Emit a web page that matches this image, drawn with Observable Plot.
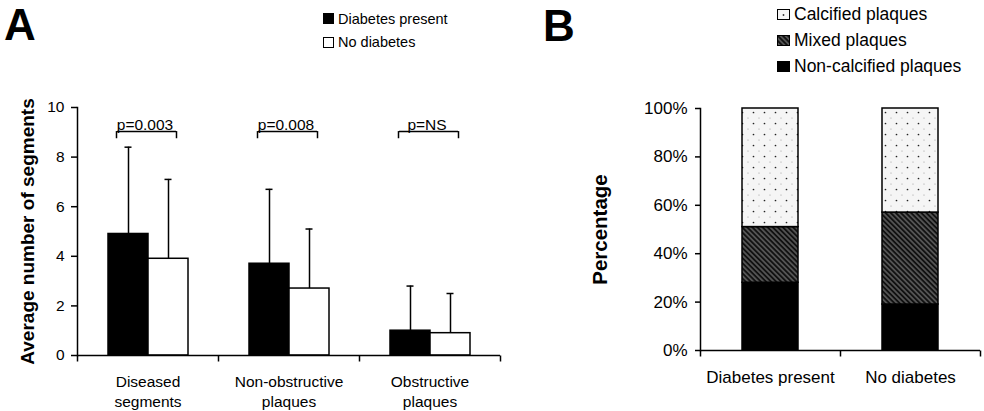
<!DOCTYPE html>
<html>
<head>
<meta charset="utf-8">
<script src="https://cdn.jsdelivr.net/npm/d3@7"></script>
<script src="https://cdn.jsdelivr.net/npm/@observablehq/plot@0.6"></script>
<style>
  body { margin: 0; background: #fff; font-family: "Liberation Sans", Arial, sans-serif; color: #000; }
  #wrap { position: relative; width: 984px; height: 411px; overflow: hidden; background: #fff; }
  .panel { position: absolute; top: 0; z-index: 0; }
  .letter { position: absolute; font-weight: bold; font-size: 44px; line-height: 1; z-index: 2; }
  .lrow { position: absolute; display: flex; align-items: center; white-space: nowrap; height: 20px; z-index: 2; }
  .lrow svg { margin-right: 4px; display: block; }
</style>
</head>
<body>
<svg width="0" height="0" style="position:absolute">
  <defs>
    <pattern id="dotPat" width="11" height="11" patternUnits="userSpaceOnUse">
      <rect width="11" height="11" fill="#f5f5f5"></rect>
      <circle cx="2.5" cy="2.5" r="0.85" fill="#222"></circle>
      <circle cx="8" cy="8" r="0.6" fill="#999"></circle>
    </pattern>
    <pattern id="mixedPat" width="3.6" height="3.6" patternUnits="userSpaceOnUse" patternTransform="rotate(45)">
      <rect width="3.6" height="3.6" fill="#111"></rect>
      <line x1="0" y1="1.8" x2="3.6" y2="1.8" stroke="#a8a8a8" stroke-width="0.8"></line>
    </pattern>
  </defs>
</svg>
<div id="wrap">
  <div id="panelA" class="panel" style="left:0px"></div>
  <div id="panelB" class="panel" style="left:520px"></div>
  <div class="letter" style="left:4px;top:3px">A</div>
  <div class="letter" style="left:543px;top:4px">B</div>
  <div id="legA"></div>
  <div id="legB"></div>
</div>
<script>
// ---------- Data: panel A ----------
const categories = ["Diseased segments", "Non-obstructive plaques", "Obstructive plaques"];
const categoryLabels = ["Diseased\nsegments", "Non-obstructive\nplaques", "Obstructive\nplaques"];
const groups = ["Diabetes present", "No diabetes"];
const meanDiabetes = [4.9, 3.7, 1.0];
const meanNoDiabetes = [3.9, 2.7, 0.9];
const sdDiabetes = [3.5, 3.0, 1.8];
const sdNoDiabetes = [3.2, 2.4, 1.6];
const pValues = ["p=0.003", "p=0.008", "p=NS"];
const yTicksA = [0, 2, 4, 6, 8, 10];
const yLabelA = "Average number of segments";

// ---------- Data: panel B ----------
const plaqueTypes = ["Non-calcified plaques", "Mixed plaques", "Calcified plaques"];
const nonCalcified = [28, 19];
const mixedPlaques = [23, 38];
const calcifiedPlaques = [49, 43];
const yTicksB = [0, 20, 40, 60, 80, 100];
const yLabelB = "Percentage";

// ---------- Tables ----------
const rowsA = categories.flatMap((c, i) => [
  {cat: c, group: groups[0], mean: meanDiabetes[i], sd: sdDiabetes[i]},
  {cat: c, group: groups[1], mean: meanNoDiabetes[i], sd: sdNoDiabetes[i]}
]);
const pRows = categories.map((c, i) => ({cat: c, p: pValues[i]}));
const bracketY = 9.03, legY = 8.74;

const rowsB = groups.flatMap((g, i) => [
  {group: g, type: plaqueTypes[0], pct: nonCalcified[i]},
  {group: g, type: plaqueTypes[1], pct: mixedPlaques[i]},
  {group: g, type: plaqueTypes[2], pct: calcifiedPlaques[i]}
]);

const vtick = {draw(ctx) { ctx.moveTo(0, 0); ctx.lineTo(0, 6); }};
const FONT = "Liberation Sans, Arial, sans-serif";

// ---------- Panel A ----------
const chartA = Plot.plot({
  width: 510, height: 411,
  marginLeft: 77, marginRight: 10, marginTop: 107, marginBottom: 56,
  style: {fontFamily: FONT, fontSize: "15.5px", color: "black", background: "white", overflow: "visible"},
  fx: {domain: categories, padding: 0, label: null},
  x: {domain: groups, paddingInner: 0, paddingOuter: 0.74, axis: null},
  y: {domain: [0, 10], label: null},
  color: {domain: groups, range: ["black", "white"]},
  marks: [
    Plot.barY(rowsA, {fx: "cat", x: "group", y: "mean", fill: "group", stroke: "black", strokeWidth: 1.5}),
    Plot.ruleX(rowsA, {fx: "cat", x: "group", y1: "mean", y2: d => d.mean + d.sd, stroke: "black", strokeWidth: 1.5}),
    Plot.tickY(rowsA, {fx: "cat", x: "group", y: d => d.mean + d.sd, insetLeft: 16.5, insetRight: 16.5, stroke: "black", strokeWidth: 1.5}),
    Plot.ruleY(pRows, {fx: "cat", y: () => bracketY, x1: () => groups[0], x2: () => groups[1], insetLeft: 9, insetRight: 12, stroke: "black", strokeWidth: 1.5}),
    Plot.ruleX(pRows, {fx: "cat", x: () => groups[0], y1: () => legY, y2: () => bracketY, dx: -12, stroke: "black", strokeWidth: 1.5}),
    Plot.ruleX(pRows, {fx: "cat", x: () => groups[1], y1: () => legY, y2: () => bracketY, dx: 8, stroke: "black", strokeWidth: 1.5}),
    Plot.text(pRows, {fx: "cat", y: () => bracketY, text: "p", lineAnchor: "bottom", dy: -2, dx: -3, fontSize: 15.5, fill: "black"}),
    Plot.ruleY([0], {stroke: "black", strokeWidth: 1.5}),
    Plot.frame({anchor: "left", facetAnchor: "left", stroke: "black", strokeWidth: 1.5}),
    Plot.dot([0], {frameAnchor: "bottom-left", symbol: vtick, fill: "none", stroke: "black", strokeWidth: 1.5}),
    Plot.dot([0], {frameAnchor: "bottom-right", symbol: vtick, fill: "none", stroke: "black", strokeWidth: 1.5, facetAnchor: "right"}),
    Plot.axisY({ticks: yTicksA, tickSize: 6, tickPadding: 7, strokeWidth: 1.5, fontSize: 15.5, label: null}),
    Plot.axisFx({anchor: "bottom", tickSize: 0, tickPadding: 17, fontSize: 15.5, lineHeight: 1.29, label: null,
      tickFormat: d => categoryLabels[categories.indexOf(d)]}),
    Plot.text([{cat: categories[0]}], {fx: "cat", frameAnchor: "left", textAnchor: "middle", text: () => yLabelA,
      rotate: -90, dx: -50, fontWeight: "bold", fontSize: 19, fill: "black"})
  ]
});
document.getElementById("panelA").appendChild(chartA);

// ---------- Panel B ----------
const chartB = Plot.plot({
  width: 464, height: 411,
  marginLeft: 180, marginRight: 4, marginTop: 108, marginBottom: 61,
  style: {fontFamily: FONT, fontSize: "17px", color: "black", background: "white", overflow: "visible"},
  x: {domain: groups, paddingInner: 0.6, paddingOuter: 0.3, label: null},
  y: {domain: [0, 100], label: null},
  color: {domain: plaqueTypes, range: ["black", "url(#mixedPat)", "url(#dotPat)"]},
  marks: [
    Plot.barY(rowsB, Plot.stackY({x: "group", y: "pct", fill: "type", stroke: "black", strokeWidth: 1.5})),
    Plot.ruleY([0], {stroke: "black", strokeWidth: 1.5}),
    Plot.frame({anchor: "left", stroke: "black", strokeWidth: 1.5}),
    Plot.dot([0], {frameAnchor: "bottom-left", symbol: vtick, fill: "none", stroke: "black", strokeWidth: 1.5}),
    Plot.dot([0], {frameAnchor: "bottom", symbol: vtick, fill: "none", stroke: "black", strokeWidth: 1.5}),
    Plot.dot([0], {frameAnchor: "bottom-right", symbol: vtick, fill: "none", stroke: "black", strokeWidth: 1.5}),
    Plot.axisY({ticks: yTicksB, tickSize: 5, tickPadding: 8, strokeWidth: 1.5, fontSize: 17, label: null,
      tickFormat: d => d + "%"}),
    Plot.axisX({tickSize: 0, tickPadding: 20, fontSize: 17, label: null}),
    Plot.text([yLabelB], {frameAnchor: "left", textAnchor: "middle", text: d => d, rotate: -90, dx: -100,
      fontWeight: "bold", fontSize: 20.5, fill: "black"})
  ]
});
document.getElementById("panelB").appendChild(chartB);

// ---------- Legends (HTML) ----------
function addRow(parent, left, centerY, swatchSvg, label, fontSize) {
  const row = document.createElement("div");
  row.className = "lrow";
  row.style.left = left + "px";
  row.style.top = (centerY - 10) + "px";
  row.style.fontSize = fontSize + "px";
  row.innerHTML = swatchSvg;
  const span = document.createElement("span");
  span.textContent = label;
  row.appendChild(span);
  parent.appendChild(row);
}
const legA = document.getElementById("legA");
const swA = [
  '<svg width="11" height="11"><rect x="0.5" y="0.5" width="10" height="10" fill="black" stroke="black"/></svg>',
  '<svg width="11" height="11"><rect x="0.5" y="0.5" width="10" height="10" fill="white" stroke="black"/></svg>'
];
groups.forEach((g, i) => addRow(legA, 323, 18.5 + i * 23.5, swA[i], g, 14.5));

const legB = document.getElementById("legB");
const legendOrderB = [plaqueTypes[2], plaqueTypes[1], plaqueTypes[0]];
const swB = {
  [plaqueTypes[2]]: '<svg width="13" height="11"><rect x="0.5" y="0.5" width="12" height="10" fill="#f5f5f5" stroke="black"/><circle cx="6.5" cy="6" r="0.9" fill="#333"/></svg>',
  [plaqueTypes[1]]: '<svg width="13" height="11"><rect x="0.5" y="0.5" width="12" height="10" fill="url(#mixedPat)" stroke="black"/></svg>',
  [plaqueTypes[0]]: '<svg width="13" height="11"><rect x="0.5" y="0.5" width="12" height="10" fill="black" stroke="black"/></svg>'
};
legendOrderB.forEach((t, i) => addRow(legB, 777, 14 + i * 26, swB[t], t, 17.5));
</script>
</body>
</html>
